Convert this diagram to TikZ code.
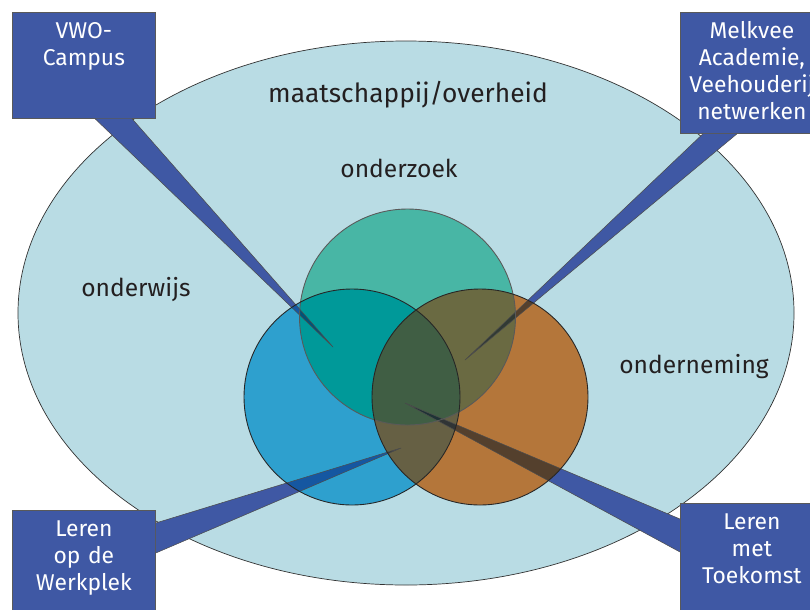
\documentclass[tikz,border=0pt]{standalone}
\usepackage{fontspec}
\setmainfont{Fira Sans}
\usetikzlibrary{positioning}
\definecolor{ellfill}{RGB}{185,220,228}
\definecolor{boxblue}{RGB}{63,88,164}
\definecolor{wijsblue}{RGB}{46,160,206}
\definecolor{zoekteal}{RGB}{72,182,165}
\definecolor{neemorange}{RGB}{180,118,58}
\definecolor{wijszoek}{RGB}{0,153,153}
\definecolor{zoekneem}{RGB}{106,106,66}
\definecolor{wijsneem}{RGB}{102,96,68}
\definecolor{allthree}{RGB}{64,94,68}
\definecolor{wedgedark}{RGB}{120,140,200}
\definecolor{txtdark}{RGB}{35,31,32}

\begin{document}
\begin{tikzpicture}[
    callbox/.style={draw=gray!70!black, fill=boxblue, text=white,
                    anchor=north west, font=\fontsize{13}{15.4}\selectfont,
                    align=center, inner sep=0pt, text width=81.4pt,
                    text height=14.8pt, text depth=#1},
    callbox/.default={45.5pt},
    area/.style={font=\fontsize{14}{17}\selectfont, text=txtdark},
    pointer/.style={fill=boxblue},
    pointerline/.style={draw=gray!60!black, line width=0.3pt},
    ring/.style={draw=#1, line width=0.5pt}
]
\useasboundingbox (0,0) rectangle (16.2,-12.18);

% ---- society: big ellipse ----
\draw[fill=ellfill, draw=gray!40!black, line width=0.4pt]
      (8.12,-6.26) ellipse (7.76 and 5.44);

% ---- callout boxes ----
\node[callbox]         (vwo)  at (0.24,-0.24)  {VWO-\\Campus};
\node[callbox=54.1pt]  (melk) at (13.6,-0.24)  {Melkvee\\Academie,\\Veehouderij\\netwerken};
\node[callbox=60pt]    (werk) at (0.24,-10.2)  {Leren\\op de\\Werkplek};
\node[callbox=60pt]    (toek) at (13.6,-10.06) {Leren\\met\\Toekomst};

% pointer tips and bases
\coordinate (tipvwo)  at (6.66,-6.94);
\coordinate (tipmelk) at (9.3,-7.2);
\coordinate (tipwerk) at (8.02,-8.96);
\coordinate (tiptoek) at (8.1,-8.06);
\coordinate (vwoA)  at ([xshift=1.66cm]vwo.south west);
\coordinate (vwoB)  at ([xshift=2.4cm]vwo.south west);
\coordinate (melkA) at ([xshift=0.46cm]melk.south west);
\coordinate (melkB) at ([xshift=1.14cm]melk.south west);
\coordinate (werkA) at ([yshift=-0.26cm]werk.north east);
\coordinate (werkB) at ([yshift=-0.86cm]werk.north east);
\coordinate (toekA) at ([yshift=-0.32cm]toek.north west);
\coordinate (toekB) at ([yshift=-0.98cm]toek.north west);

\foreach \b in {vwo,melk,werk,toek}
  \fill[pointer] (\b A) -- (tip\b) -- (\b B) -- cycle;

% ---- three circles ----
\coordinate (czoek) at (8.15,-6.34);
\coordinate (cwijs) at (7.04,-7.94);
\coordinate (cneem) at (9.6,-7.94);
\fill[zoekteal]   (czoek) circle (2.16);
\fill[wijsblue]   (cwijs) circle (2.16);
\fill[neemorange] (cneem) circle (2.16);
% overlaps
\begin{scope}
  \clip (cwijs) circle (2.16);
  \fill[wijszoek] (czoek) circle (2.16);
  \fill[wijsneem] (cneem) circle (2.16);
\end{scope}
\begin{scope}
  \clip (czoek) circle (2.16);
  \fill[zoekneem] (cneem) circle (2.16);
\end{scope}
\begin{scope}
  \clip (cwijs) circle (2.16);
  \clip (cneem) circle (2.16);
  \fill[allthree] (czoek) circle (2.16);
\end{scope}

% darker where the pointers cross the circles
\begin{scope}
  \clip (czoek) circle (2.16) (cwijs) circle (2.16) (cneem) circle (2.16);
  \foreach \b in {vwo,melk,werk,toek}
    \fill[wedgedark, blend mode=multiply] (\b A) -- (tip\b) -- (\b B) -- cycle;
\end{scope}
\foreach \b in {vwo,melk,werk,toek}
  \draw[pointerline] (\b A) -- (tip\b) -- (\b B);

% circle outlines on top
\draw[ring=gray!70!black] (czoek) circle (2.16);
\draw[ring=black!85] (cwijs) circle (2.16);
\draw[ring=black!85] (cneem) circle (2.16);

% ---- labels ----
\node[area, font=\fontsize{15}{18}\selectfont] (maat) at (8.16,-1.9) {maatschappij/overheid};
\node[area] (zoek) at (7.98,-3.36) {onderzoek};
\node[area] (wijs) at (2.72,-5.8)  {onderwijs};
\node[area] (neem) at (13.88,-7.34) {onderneming};

\end{tikzpicture}
\end{document}
